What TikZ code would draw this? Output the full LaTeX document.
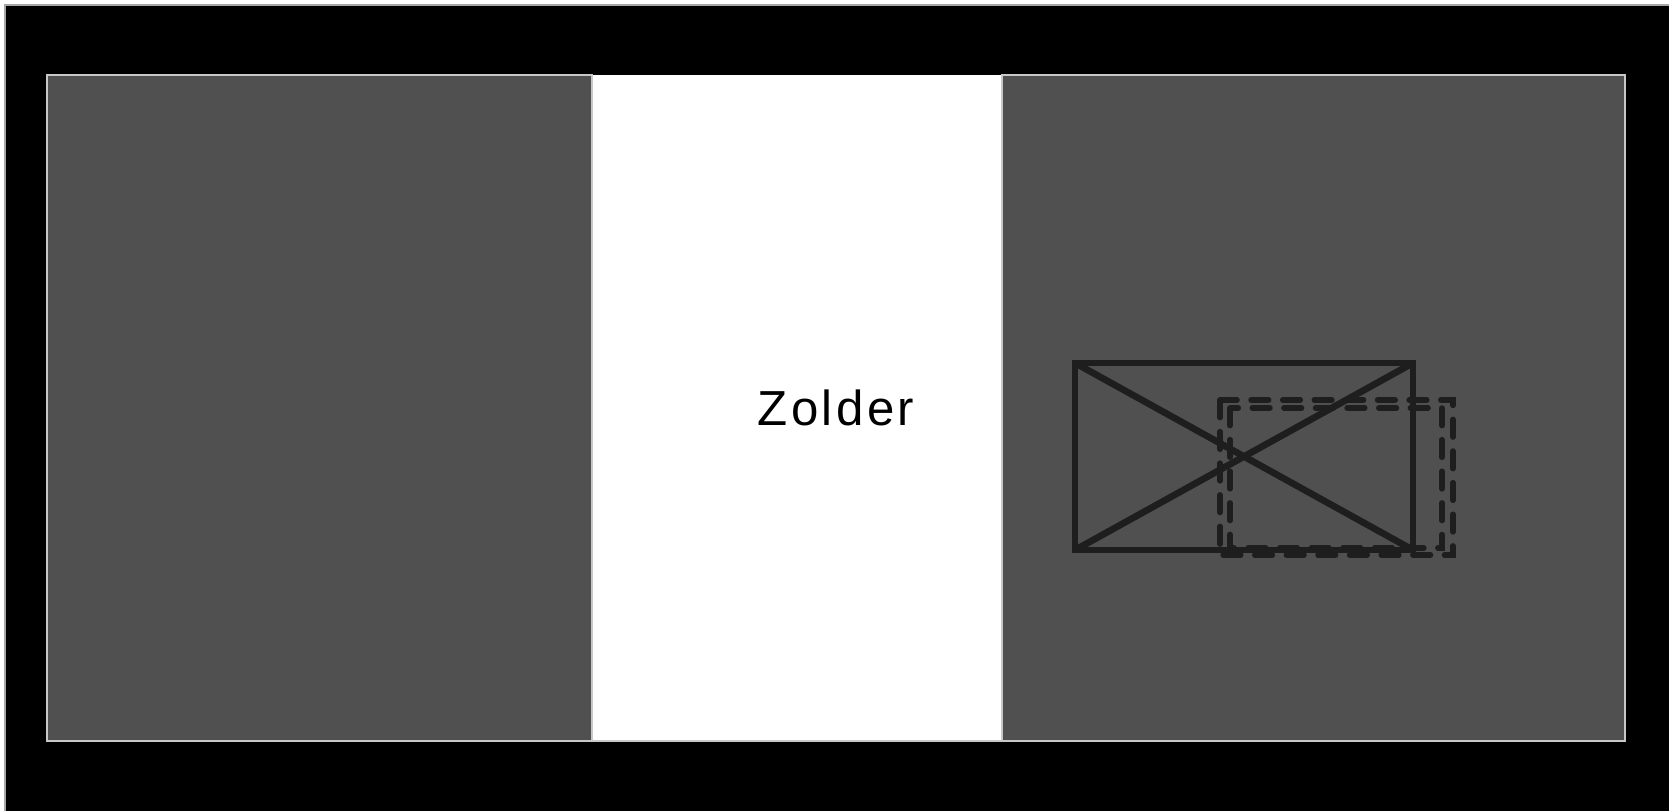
\documentclass[tikz,border=0pt]{standalone}
\usepackage{fontspec}
\setmainfont{Liberation Sans}
\usepackage{tikz}

\definecolor{panelgray}{RGB}{80,80,80}
\definecolor{rimgray}{RGB}{200,200,200}
\definecolor{inkgray}{RGB}{30,30,30}

\begin{document}
\begin{tikzpicture}[x=0.02cm,y=-0.02cm,
    panel/.style={fill=panelgray,draw=rimgray,line width=1.2pt},
    hatchbox/.style={draw=inkgray,line width=3.8pt},
    dashbox/.style={draw=inkgray,line width=3.2pt,line cap=round,dash pattern=on 10pt off 8pt}]
  \useasboundingbox (0,0) rectangle (1669,811);
  \fill[white] (0,0) rectangle (1669,811);
  \fill[black] (5,5) rectangle (1669,811);
  \draw[gray!70,line width=0.8pt] (5,811) -- (5,5) -- (1669,5);
  \fill[white] (592,75) rectangle (1002,741);
  \draw[panel] (47,75) rectangle (592,741);
  \draw[panel] (1002,75) rectangle (1625,741);
  \draw[rimgray,line width=1.2pt] (592,741) -- (1002,741);
  \node[font={\fontsize{28pt}{30pt}\addfontfeature{LetterSpace=7}\selectfont}] (zolder) at (836,408) {Zolder};
  \draw[hatchbox] (1075,363) rectangle (1413,550);
  \draw[hatchbox] (1075,363) -- (1413,550);
  \draw[hatchbox] (1075,550) -- (1413,363);
  \draw[dashbox] (1220,400) rectangle (1453,555);
  \draw[dashbox] (1230,408) rectangle (1442,548);
\end{tikzpicture}
\end{document}
